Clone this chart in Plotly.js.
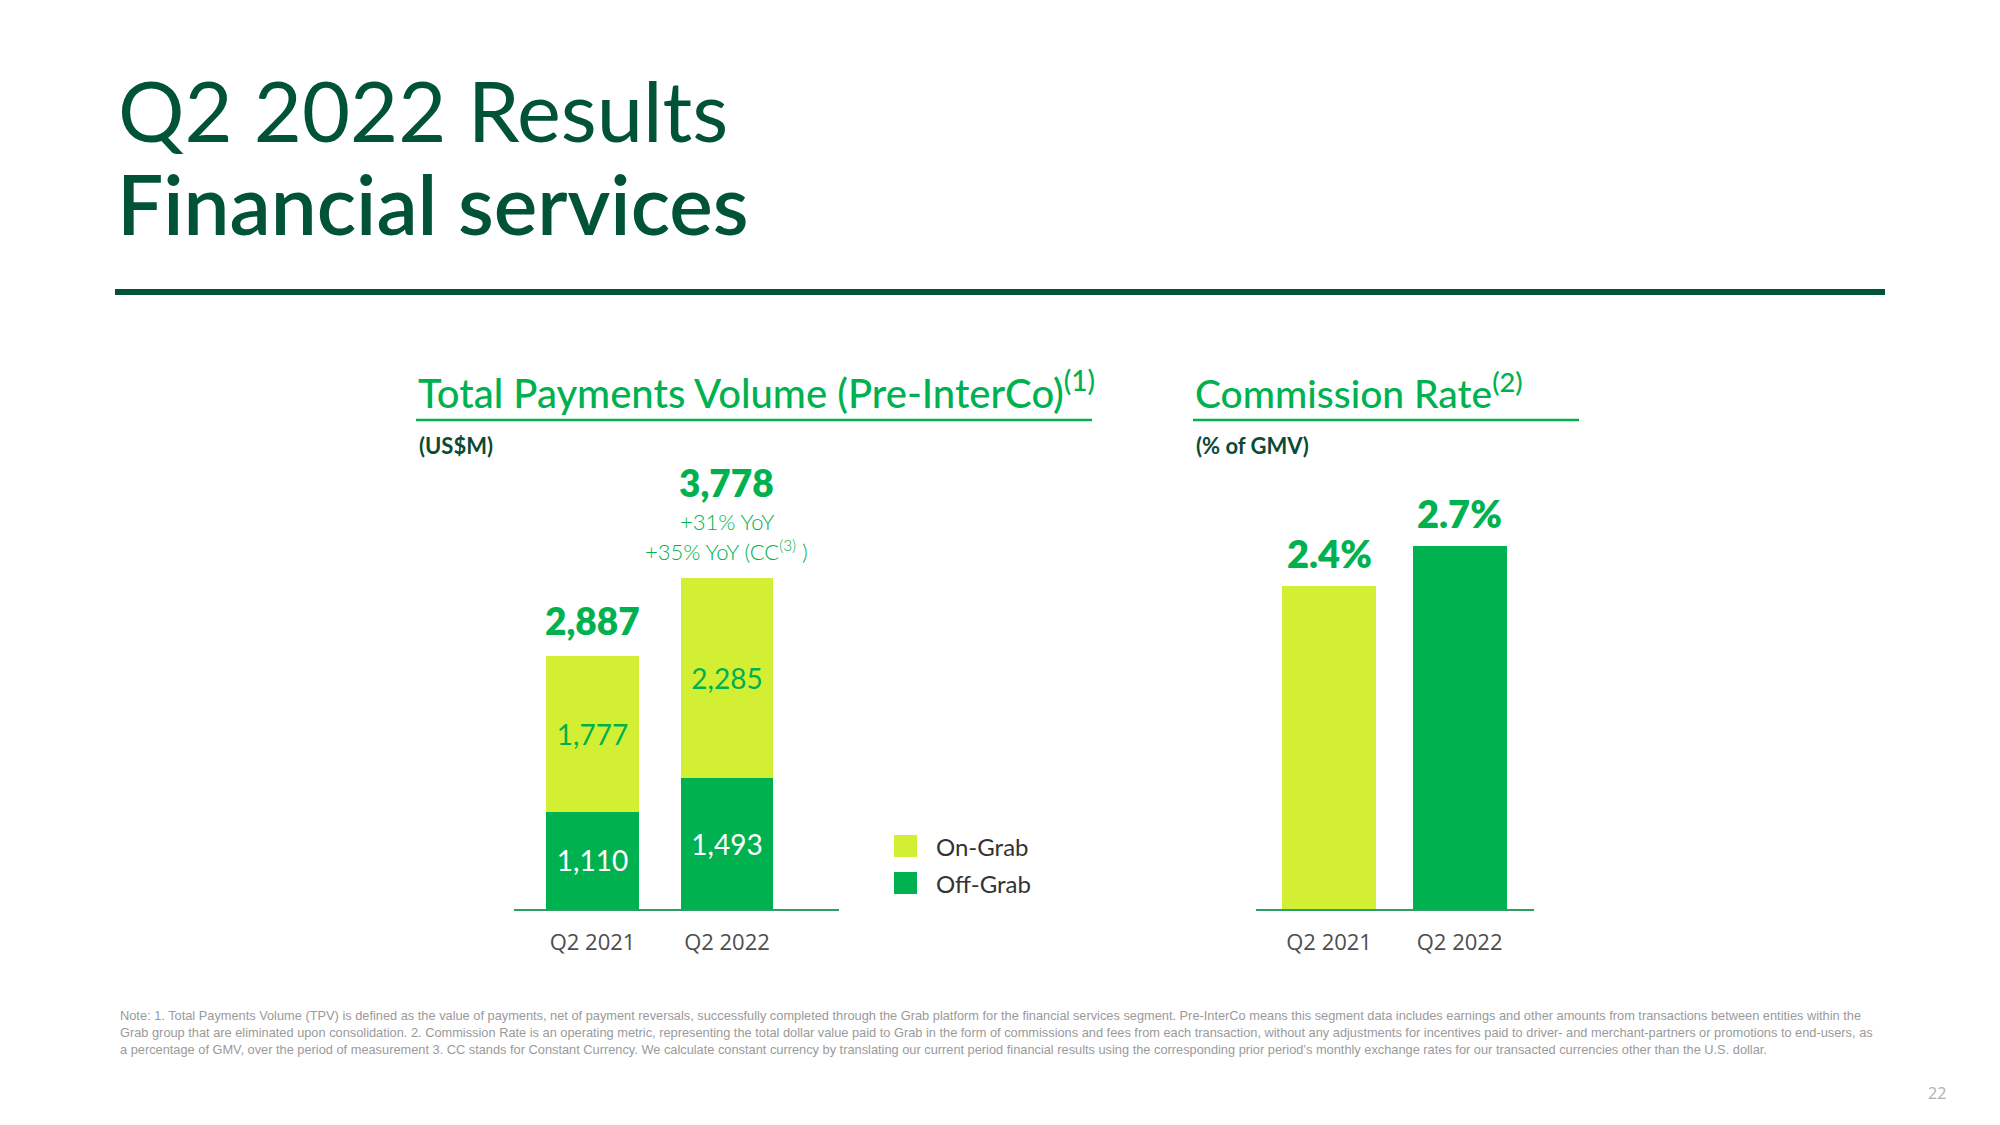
<!DOCTYPE html>
<html>
<head>
<meta charset="utf-8">
<script src="https://cdn.plot.ly/plotly-3.0.1.min.js"></script>
<style>html,body{margin:0;padding:0;background:#fff;}#chart{width:2000px;height:1125px;}</style>
</head>
<body>
<div id="chart"></div>
<script>
// ---- data ----
const categories = ['Q2 2021', 'Q2 2022'];
const offGrab = [1110, 1493];
const onGrab = [1777, 2285];
const commissionRate = [2.4, 2.7];
const seriesNames = ['On-Grab', 'Off-Grab'];
const yoyNotes = ['+31% YoY', '+35% YoY (CC<sup>(3)</sup> )'];

// ---- style ----
const GREEN = '#00B14F';
const LIME = '#D3EF34';
const DARK = '#005339';
const AXIS = '#2E9E62';
const HFONT = 'Lato, "Open Sans", sans-serif';
const W = 2000, H = 1125;
const px = x => x / W;
const py = y => 1 - y / H;

const totals = categories.map((c, i) => offGrab[i] + onGrab[i]);
const fmt = v => v.toLocaleString('en-US');

const traces = [
  {
    type: 'bar', name: seriesNames[1], x: categories, y: offGrab,
    xaxis: 'x', yaxis: 'y', width: 0.685,
    marker: {color: GREEN},
    texttemplate: '%{y:,}', textposition: 'inside', insidetextanchor: 'middle',
    textangle: 0, constraintext: 'none',
    textfont: {family: HFONT, size: 28, color: '#ffffff'},
    hoverinfo: 'skip', showlegend: false
  },
  {
    type: 'bar', name: seriesNames[0], x: categories, y: onGrab,
    xaxis: 'x', yaxis: 'y', width: 0.685,
    marker: {color: LIME},
    texttemplate: '%{y:,}', textposition: 'inside', insidetextanchor: 'middle',
    textangle: 0, constraintext: 'none',
    textfont: {family: HFONT, size: 28, color: GREEN},
    hoverinfo: 'skip', showlegend: false
  },
  {
    type: 'bar', name: 'Commission Rate', x: categories, y: commissionRate,
    xaxis: 'x2', yaxis: 'y2', width: 0.72,
    marker: {color: [LIME, GREEN]},
    hoverinfo: 'skip', showlegend: false
  }
];

const annotations = [];
const shapes = [];

// headline
annotations.push({xref:'paper', yref:'paper', x: px(116), y: py(110), xanchor:'left', yanchor:'middle',
  text:'Q2 2022 Results', showarrow:false, font:{family:HFONT, size:83, color:DARK, weight:400}});
annotations.push({xref:'paper', yref:'paper', x: px(115), y: py(203), xanchor:'left', yanchor:'middle',
  text:'Financial services', showarrow:false, font:{family:HFONT, size:82, color:DARK, weight:600}});
shapes.push({type:'line', xref:'paper', yref:'paper', x0: px(115), x1: px(1885), y0: py(292), y1: py(292),
  line:{color:DARK, width:6}});

// panel titles
annotations.push({xref:'paper', yref:'paper', x: px(416), y: py(390), xanchor:'left', yanchor:'middle',
  text:'Total Payments Volume (Pre-InterCo)<sup>(1)</sup>', showarrow:false,
  font:{family:HFONT, size:40, color:GREEN, weight:500}});
shapes.push({type:'line', xref:'paper', yref:'paper', x0: px(416), x1: px(1092), y0: py(420), y1: py(420),
  line:{color:GREEN, width:2.5}});
annotations.push({xref:'paper', yref:'paper', x: px(417), y: py(445), xanchor:'left', yanchor:'middle',
  text:'(US$M)', showarrow:false, font:{family:HFONT, size:22, color:'#0B4A35', weight:700}});

annotations.push({xref:'paper', yref:'paper', x: px(1193), y: py(390), xanchor:'left', yanchor:'middle',
  text:'Commission Rate<sup>(2)</sup>', showarrow:false,
  font:{family:HFONT, size:39, color:GREEN, weight:500}});
shapes.push({type:'line', xref:'paper', yref:'paper', x0: px(1193), x1: px(1579), y0: py(420), y1: py(420),
  line:{color:GREEN, width:2.5}});
annotations.push({xref:'paper', yref:'paper', x: px(1194), y: py(446), xanchor:'left', yanchor:'middle',
  text:'(% of GMV)', showarrow:false, font:{family:HFONT, size:22, color:'#0B4A35', weight:700}});

// totals above stacked bars
totals.forEach((t, i) => {
  const shift = i === 0 ? 36 : 96;
  annotations.push({xref:'x', yref:'y', x: categories[i], y: t, xanchor:'center', yanchor:'middle',
    yshift: shift, text: fmt(t), showarrow:false,
    font:{family:HFONT, size:37, color:GREEN, weight:800}});
});
yoyNotes.forEach((n, j) => {
  annotations.push({xref:'x', yref:'y', x: categories[1], y: totals[1], xanchor:'center', yanchor:'middle',
    yshift: j === 0 ? 57 : 28, text: n, showarrow:false,
    font:{family:HFONT, size:22, color:GREEN, weight:300}});
});

// commission labels
commissionRate.forEach((v, i) => {
  annotations.push({xref:'x2', yref:'y2', x: categories[i], y: v, xanchor:'center', yanchor:'middle',
    yshift: 33, text: v.toFixed(1) + '%', showarrow:false,
    font:{family:HFONT, size:38, color:GREEN, weight:800}});
});

// legend (custom)
const legendColors = [LIME, GREEN];
seriesNames.forEach((n, i) => {
  const yc = 846 + i * 37;
  shapes.push({type:'rect', xref:'paper', yref:'paper', x0: px(894), x1: px(917), y0: py(yc - 11), y1: py(yc + 11),
    fillcolor: legendColors[i], line:{width:0}});
  annotations.push({xref:'paper', yref:'paper', x: px(934), y: py(yc), xanchor:'left', yanchor:'middle',
    text: n, showarrow:false, font:{family:HFONT, size:24, color:'#333333', weight:400}});
});

// footnote
const noteLines = [
  'Note: 1. Total Payments Volume (TPV) is defined as the value of payments, net of payment reversals, successfully completed through the Grab platform for the financial services segment. Pre-InterCo means this segment data includes earnings and other amounts from transactions between entities within the',
  'Grab group that are eliminated upon consolidation. 2. Commission Rate is an operating metric, representing the total dollar value paid to Grab in the form of commissions and fees from each transaction, without any adjustments for incentives paid to driver- and merchant-partners or promotions to end-users, as',
  'a percentage of GMV, over the period of measurement 3. CC stands for Constant Currency. We calculate constant currency by translating our current period financial results using the corresponding prior period’s monthly exchange rates for our transacted currencies other than the U.S. dollar.'
];
noteLines.forEach((l, i) => {
  annotations.push({xref:'paper', yref:'paper', x: px(118), y: py(1015 + i * 17), xanchor:'left', yanchor:'middle',
    text: l, showarrow:false, font:{family:'"Liberation Sans Narrow", "Liberation Sans", sans-serif', size:12.8, color:'#9a9a9a'}});
});
annotations.push({xref:'paper', yref:'paper', x: px(1937), y: py(1093), xanchor:'center', yanchor:'middle',
  text:'22', showarrow:false, font:{family:'"Open Sans", sans-serif', size:16, color:'#b0b0b0'}});

const yDomain = [py(909), py(495)];
const domH = (909 - 495);

const layout = {
  width: W, height: H,
  margin: {l:0, r:0, t:0, b:0},
  paper_bgcolor: '#ffffff', plot_bgcolor: 'rgba(0,0,0,0)',
  barmode: 'stack',
  showlegend: false,
  xaxis: {domain:[px(514), px(839)], type:'category', range:[-0.584, 1.833], anchor:'y',
    showline:true, linecolor:AXIS, linewidth:1.5, showgrid:false, zeroline:false, ticks:'',
    ticklabelstandoff: 13,
    tickfont:{family:'"Open Sans", sans-serif', size:22, color:'#4d4d4d'}, fixedrange:true},
  yaxis: {domain:yDomain, range:[0, domH / 0.0876], visible:false, fixedrange:true},
  xaxis2: {domain:[px(1256), px(1534)], type:'category', range:[-0.56, 1.57], anchor:'y2',
    showline:true, linecolor:AXIS, linewidth:1.5, showgrid:false, zeroline:false, ticks:'',
    ticklabelstandoff: 13,
    tickfont:{family:'"Open Sans", sans-serif', size:22, color:'#4d4d4d'}, fixedrange:true},
  yaxis2: {domain:yDomain, range:[0, domH / 134.5], visible:false, fixedrange:true, anchor:'x2'},
  annotations: annotations,
  shapes: shapes
};

Plotly.newPlot('chart', traces, layout, {displayModeBar:false, staticPlot:true});
</script>
</body>
</html>
